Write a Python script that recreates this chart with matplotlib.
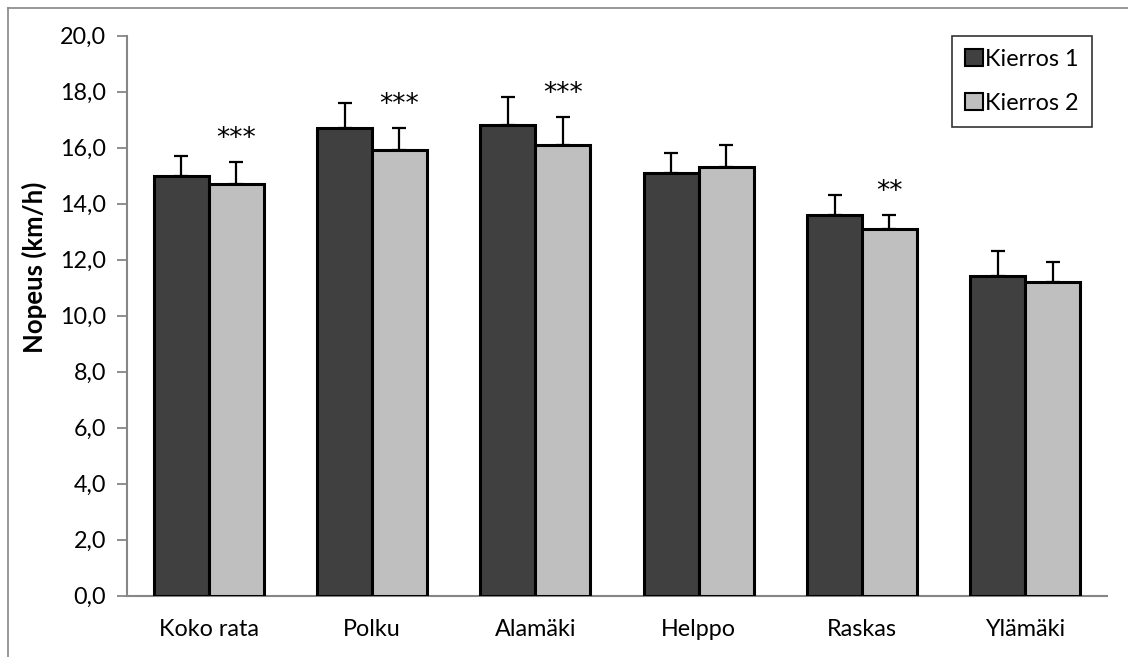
import numpy as np
import matplotlib
matplotlib.use("Agg")
import matplotlib.pyplot as plt
from matplotlib.lines import Line2D
from matplotlib.patches import Patch

plt.rcParams['font.family'] = ['Lato', 'DejaVu Sans']

categories = ['Koko rata', 'Polku', 'Alamäki', 'Helppo', 'Raskas', 'Ylämäki']
kierros1 = [15.0, 16.7, 16.8, 15.1, 13.6, 11.4]
kierros1_sd = [0.7, 0.9, 1.0, 0.7, 0.7, 0.9]
kierros2 = [14.7, 15.9, 16.1, 15.3, 13.1, 11.2]
kierros2_sd = [0.8, 0.8, 1.0, 0.8, 0.5, 0.7]
stars = ['***', '***', '***', '', '**', '']
yticks = [0, 2, 4, 6, 8, 10, 12, 14, 16, 18, 20]

dark = '#404040'
light = '#bfbfbf'
axis_grey = '#868686'

fig = plt.figure(figsize=(11.28, 6.57), dpi=100)
ax = fig.add_axes([0.1126, 0.0933, 0.8688, 0.8524])

x = np.arange(len(categories))
w = 0.336

ax.bar(x - w/2, kierros1, w, color=dark, edgecolor='black', linewidth=2.2,
       yerr=[np.zeros(len(x)), kierros1_sd], capsize=5,
       error_kw=dict(elinewidth=1.6, capthick=1.6, ecolor='black'),
       label='Kierros 1', zorder=3)
ax.bar(x + w/2, kierros2, w, color=light, edgecolor='black', linewidth=2.2,
       yerr=[np.zeros(len(x)), kierros2_sd], capsize=5,
       error_kw=dict(elinewidth=1.6, capthick=1.6, ecolor='black'),
       label='Kierros 2', zorder=3)

# significance marks above the second round
for i, s in enumerate(stars):
    if s:
        ax.annotate(s, (x[i] + w/2, kierros2[i] + kierros2_sd[i]),
                    xytext=(0, 7), textcoords='offset points',
                    ha='center', va='bottom', fontsize=19,
                    family=['DejaVu Sans'])

ax.set_xlim(-0.5, len(categories) - 0.5)
ax.set_ylim(0, 20)
ax.set_yticks(yticks)
ax.yaxis.set_major_formatter(matplotlib.ticker.FuncFormatter(
    lambda v, p: ('%.1f' % v).replace('.', ',')))
ax.set_xticks(x)
ax.set_xticklabels(categories)
ax.tick_params(axis='x', length=0, pad=17, labelsize=16.8)
ax.tick_params(axis='y', length=7, width=1.3, color=axis_grey, pad=8,
               labelsize=16.8)

for side in ['top', 'right']:
    ax.spines[side].set_visible(False)
for side in ['left', 'bottom']:
    ax.spines[side].set_color(axis_grey)
    ax.spines[side].set_linewidth(1.5)

ax.set_ylabel('Nopeus (km/h)', fontsize=18.5, fontweight='bold')
ax.yaxis.set_label_coords(-0.082, 0.587)

handles = [Patch(facecolor=dark, edgecolor='black', linewidth=1.5),
           Patch(facecolor=light, edgecolor='black', linewidth=1.5)]
leg = ax.legend(handles, ['Kierros 1', 'Kierros 2'], loc='upper right',
                bbox_to_anchor=(0.9845, 1.0), fontsize=16.8, frameon=True,
                fancybox=False, edgecolor='black', handlelength=0.75,
                handleheight=0.75, handletextpad=0.12, labelspacing=1.0,
                borderpad=0.55, borderaxespad=0.0)
leg.get_frame().set_linewidth(1.2)

# outer chart border
fig.add_artist(Line2D([8/1128, 8/1128], [0, 1 - 8/657], transform=fig.transFigure,
                      color=axis_grey, linewidth=1.2))
fig.add_artist(Line2D([8/1128, 1], [1 - 8/657, 1 - 8/657], transform=fig.transFigure,
                      color=axis_grey, linewidth=1.2))

fig.savefig('out.png', dpi=100)
